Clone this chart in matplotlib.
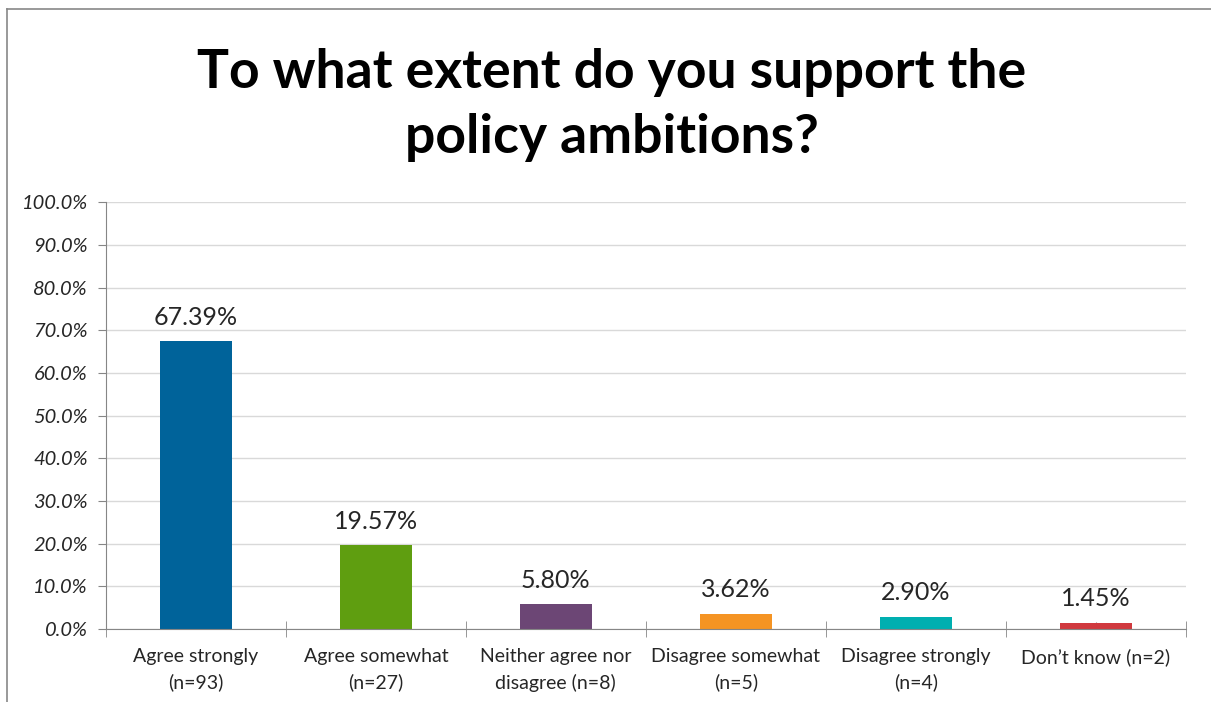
import matplotlib
matplotlib.use("Agg")
import matplotlib.pyplot as plt
from matplotlib.ticker import FixedLocator, PercentFormatter
from matplotlib.lines import Line2D

categories = ["Agree strongly\n(n=93)", "Agree somewhat\n(n=27)", "Neither agree nor\ndisagree (n=8)",
              "Disagree somewhat\n(n=5)", "Disagree strongly\n(n=4)", "Don\u2019t know (n=2)"]
values = [67.39, 19.57, 5.80, 3.62, 2.90, 1.45]
colors = ["#00639A", "#5F9E10", "#6C4675", "#F59423", "#00AFB0", "#D0393E"]
title = "To what extent do you support the\npolicy ambitions?"

plt.rcParams["font.family"] = ["Lato", "DejaVu Sans"]

fig = plt.figure(figsize=(12.11, 7.02), dpi=100)
ax = fig.add_axes([0.0875, 0.104, 0.8915, 0.608])

x = list(range(len(categories)))
ax.bar(x, values, width=0.4, color=colors, zorder=3)
for xi, v in zip(x, values):
    ax.annotate(f"{v:.2f}%", (xi, v), xytext=(0, 9), textcoords="offset points",
                ha="center", va="bottom", fontsize=18, color="#262626")

ax.set_xlim(-0.5, len(categories) - 0.5)
ax.set_ylim(0, 100)
ax.set_yticks(range(0, 101, 10))
ax.yaxis.set_major_formatter(PercentFormatter(decimals=1))
ax.yaxis.grid(True, color="#D9D9D9", linewidth=1, zorder=0)

ax.set_xticks(x)
ax.set_xticklabels(categories, fontsize=14, color="#262626", linespacing=1.55)
ax.xaxis.set_minor_locator(FixedLocator([i - 0.5 for i in range(len(categories) + 1)]))
ax.tick_params(axis="x", which="major", direction="in", length=5, color="#868686", pad=14)
ax.tick_params(axis="x", which="minor", direction="inout", length=12, color="#868686")
ax.tick_params(axis="y", direction="out", length=6, color="#868686", labelsize=14.5, pad=7)
for lab in ax.get_yticklabels():
    lab.set_fontstyle("italic")
    lab.set_color("#262626")

for side in ["top", "right"]:
    ax.spines[side].set_visible(False)
for side in ["left", "bottom"]:
    ax.spines[side].set_color("#868686")
    ax.spines[side].set_zorder(4)

fig.text(0.505, 0.85, title, ha="center", va="center", fontsize=38.5, fontweight="bold",
         linespacing=1.4, color="black")

# outer chart border (top and left edges visible)
fig.add_artist(Line2D([7 / 1211, 1], [1 - 9 / 702, 1 - 9 / 702], transform=fig.transFigure,
                      color="#878787", linewidth=1.2))
fig.add_artist(Line2D([7 / 1211, 7 / 1211], [0, 1 - 9 / 702], transform=fig.transFigure,
                      color="#878787", linewidth=1.2))

fig.savefig("out.png", dpi=100)
